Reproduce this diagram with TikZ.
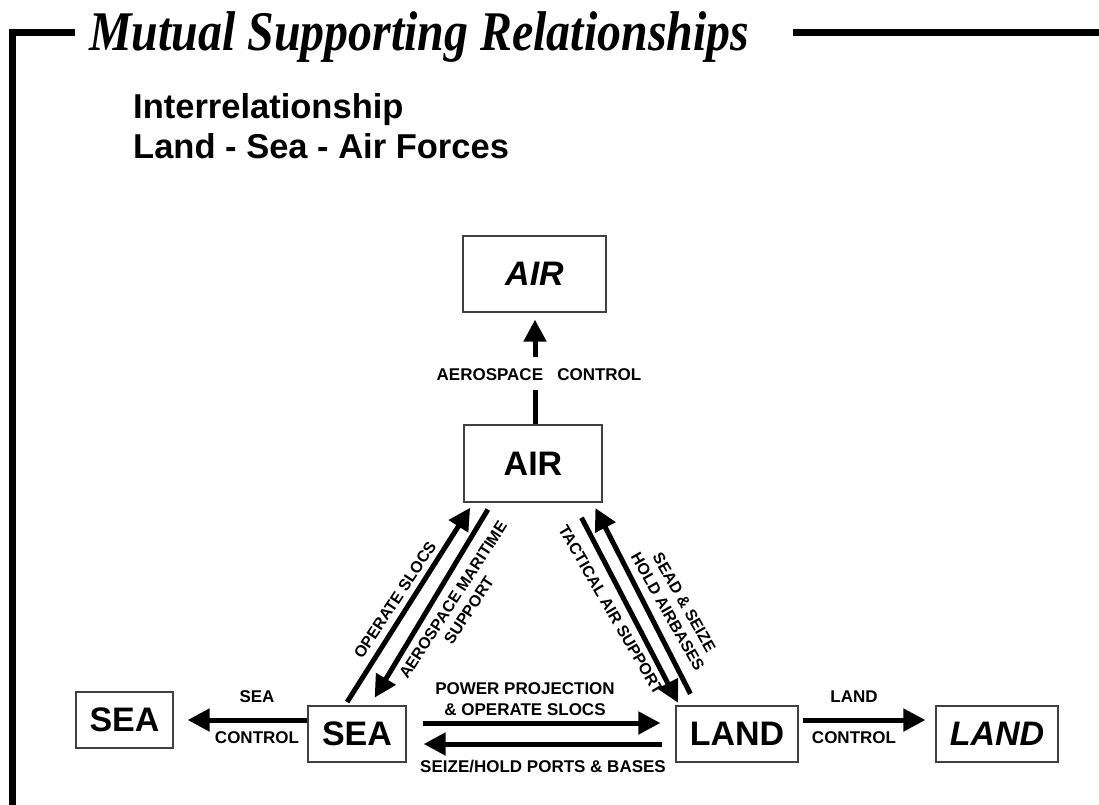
\documentclass[tikz,border=0pt]{standalone}
\usepackage{fontspec}
\usepackage{graphicx}
\setmainfont{Liberation Sans}
\newfontfamily\titlefont{Liberation Serif}
\usetikzlibrary{arrows.meta}
\begin{document}
\begin{tikzpicture}[x=1pt,y=-1pt,
  box/.style={draw=black!75, line width=1.3pt, inner sep=0pt, font=\fontsize{34}{34}\selectfont\bfseries},
  lbl/.style={font=\fontsize{17}{21}\selectfont\bfseries, inner sep=0pt, align=center},
  dlbl/.style={font=\fontsize{16}{19}\selectfont\bfseries, inner sep=0pt, align=center},
  fat/.style={line width=5pt, -{Triangle[width=22pt,length=22pt]}},
  bar/.style={line width=5pt},
  frameline/.style={line width=7pt}]
\useasboundingbox (0,0) rectangle (1099,804);
\fill[white] (0,0) rectangle (1099,804);

% frame
\draw[frameline] (75,32) -- (12,32) -- (12,812);
\draw[frameline] (793,32) -- (1105,32);

% titles
\node[anchor=base west, inner sep=0pt] (title) at (89,50)
  {\titlefont\fontsize{56}{56}\selectfont\bfseries\itshape\scalebox{0.855}[1]{Mutual Supporting Relationships}};
\node[anchor=base west, inner sep=0pt, font=\fontsize{34.5}{40}\selectfont\bfseries] (sub1) at (133,118) {Interrelationship};
\node[anchor=base west, inner sep=0pt, font=\fontsize{34.5}{40}\selectfont\bfseries] (sub2) at (133,158) {Land - Sea - Air Forces};

% boxes
\node[box, minimum width=143pt, minimum height=76pt] (airtop) at (534.5,274) {\itshape AIR};
\node[box, minimum width=138pt, minimum height=77pt] (air) at (533,463.5) {AIR};
\node[box, minimum width=97pt, minimum height=56pt] (seaL) at (124.5,720) {SEA};
\node[box, minimum width=98pt, minimum height=56pt] (sea) at (357,734) {SEA};
\node[box, minimum width=122pt, minimum height=56pt] (land) at (737,734) {LAND};
\node[box, minimum width=122pt, minimum height=56pt] (landI) at (997,734) {\itshape LAND};

% aerospace control
\node[lbl] (acl) at (539,375) {AEROSPACE\ \ \ CONTROL};
\coordinate (ax) at (535,375);
\draw[bar, shorten >=15pt] (ax |- air.north) -- (ax);
\draw[fat, shorten <=18pt, shorten >=7pt] (ax) -- (ax |- airtop.south);

% sea control
\draw[fat, shorten >=14pt] (sea.west |- seaL.east) -- (seaL.east);
\node[lbl] (seac1) at (257,697) {SEA};
\node[lbl] (seac2) at (257,738) {CONTROL};

% land control
\draw[fat, shorten <=4pt, shorten >=10pt] ([yshift=14pt]land.east) -- ([yshift=14pt]landI.west);
\node[lbl] (landc1) at (854,697) {LAND};
\node[lbl] (landc2) at (854,738) {CONTROL};

% sea <-> land
\draw[fat, shorten <=16pt, shorten >=15pt] ([yshift=11pt]sea.east) -- ([yshift=11pt]land.west);
\draw[fat, shorten <=13pt, shorten >=17pt] ([yshift=-10pt]land.west) -- ([yshift=-10pt]sea.east);
\node[lbl] (pp) at (525,699.5) {POWER PROJECTION\\\& OPERATE SLOCS};
\node[lbl] (shp) at (543,766) {SEIZE/HOLD PORTS \& BASES};

% sea <-> air
\draw[fat, shorten <=4pt, shorten >=6pt] ([xshift=-12pt]sea.north) -- ([xshift=10pt]air.south west);
\draw[fat, shorten <=8pt, shorten >=9pt] ([xshift=-41pt]air.south) -- ([xshift=13pt]sea.north);
\node[dlbl, rotate=56.7] (os) at (395,600) {OPERATE SLOCS};
\node[dlbl, rotate=56.9] (ams) at (461,605) {AEROSPACE MARITIME\\SUPPORT};

% air <-> land
\draw[fat, shorten <=17pt, shorten >=3pt] ([xshift=-29pt]air.south east) -- ([xshift=4pt]land.north west);
\draw[fat, shorten <=13pt, shorten >=6pt] ([xshift=21pt]land.north west) -- ([xshift=-10pt]air.south east);
\node[dlbl, rotate=-59.8] (tas) at (611,610) {TACTICAL AIR SUPPORT};
\node[dlbl, rotate=-60.4] (sead) at (676,607) {SEAD \& SEIZE\\HOLD AIRBASES};
\end{tikzpicture}
\end{document}
